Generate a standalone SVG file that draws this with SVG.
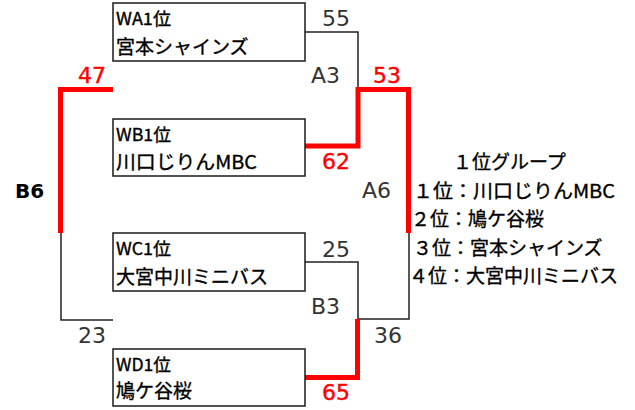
<svg xmlns="http://www.w3.org/2000/svg" width="635" height="410" viewBox="0 0 635 410">
<style>
.box{fill:#fff;stroke:#1a1a1a;stroke-width:1.5}
.lab{font-family:"Noto Sans CJK JP","Liberation Sans",sans-serif;font-size:17px;fill:#000;stroke:#000;stroke-width:0.35}
.name{font-family:"Noto Sans CJK JP","Liberation Sans",sans-serif;font-size:19px;fill:#000;stroke:#000;stroke-width:0.35}
.sc{font-family:"DejaVu Sans",sans-serif;font-size:22px;fill:#333}
.scr{font-family:"DejaVu Sans",sans-serif;font-size:22px;fill:#f00;stroke:#f00;stroke-width:0.4}
.big{font-family:"DejaVu Sans",sans-serif;font-size:20px;font-weight:bold;fill:#000}
.lst{font-family:"Noto Sans CJK JP","Liberation Sans",sans-serif;font-size:19px;fill:#000;stroke:#000;stroke-width:0.35}
.bl{fill:none;stroke:#222;stroke-width:1.5}
.rd{fill:none;stroke:#f00;stroke-width:5}
</style>
<g id="connectors">
<polyline class="bl" points="305,32 358,32 358,89"/>
<polyline class="bl" points="305,262 358,262 358,319 409,319 409,233"/>
<polyline class="bl" points="61,233 61,320 113,320"/>
<polyline class="rd" points="305,146 358,146 358,89.5 408.5,89.5 408.5,233"/>
<polyline class="rd" points="305,377.5 357.5,377.5 357.5,319"/>
<polyline class="rd" points="113,89.5 60.5,89.5 60.5,233"/>
</g>
<g id="nodeA">
<rect class="box" x="113" y="3" width="192" height="58"/>
<text class="lab" x="116" y="25" textLength="55" lengthAdjust="spacingAndGlyphs">WA1位</text>
<text class="name" x="116" y="54">宮本シャインズ</text>
</g>
<g id="nodeB">
<rect class="box" x="113" y="119" width="192" height="57"/>
<text class="lab" x="116" y="141" textLength="55" lengthAdjust="spacingAndGlyphs">WB1位</text>
<text class="name" x="116" y="169" textLength="141" lengthAdjust="spacingAndGlyphs">川口じりんMBC</text>
</g>
<g id="nodeC">
<rect class="box" x="113" y="233" width="192" height="58"/>
<text class="lab" x="116" y="255" textLength="55" lengthAdjust="spacingAndGlyphs">WC1位</text>
<text class="name" x="116" y="284">大宮中川ミニバス</text>
</g>
<g id="nodeD">
<rect class="box" x="113" y="349" width="192" height="57"/>
<text class="lab" x="116" y="371" textLength="55" lengthAdjust="spacingAndGlyphs">WD1位</text>
<text class="name" x="116" y="398">鳩ケ谷桜</text>
</g>
<g id="scores">
<text class="sc" x="322" y="26">55</text>
<text class="sc" x="311" y="83">A3</text>
<text class="scr" x="373" y="83">53</text>
<text class="scr" x="322" y="169">62</text>
<text class="scr" x="78" y="83">47</text>
<text class="big" x="15" y="198">B6</text>
<text class="sc" x="362" y="198">A6</text>
<text class="sc" x="78" y="343">23</text>
<text class="sc" x="322" y="257">25</text>
<text class="sc" x="311" y="314">B3</text>
<text class="sc" x="374" y="343">36</text>
<text class="scr" x="322" y="400">65</text>
</g>
<g id="ranking">
<text class="lst" x="453" y="169">１位グループ</text>
<text class="lst" x="413" y="198" textLength="202" lengthAdjust="spacingAndGlyphs">１位：川口じりんMBC</text>
<text class="lst" x="411" y="226">２位：鳩ケ谷桜</text>
<text class="lst" x="413" y="255">３位：宮本シャインズ</text>
<text class="lst" x="409" y="283">４位：大宮中川ミニバス</text>
</g>
</svg>
